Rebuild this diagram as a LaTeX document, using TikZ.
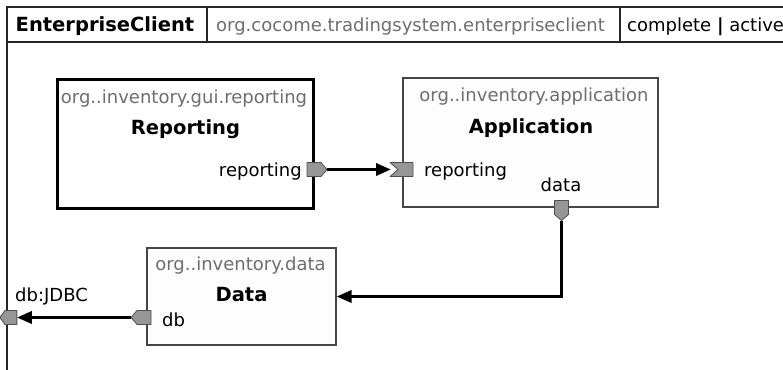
\documentclass[tikz,border=0pt]{standalone}
\usepackage{fontspec}
\setmainfont{DejaVu Sans}
\usepackage{xcolor}
\definecolor{pkggray}{RGB}{110,110,110}
\definecolor{portgray}{RGB}{150,150,150}
\definecolor{portline}{RGB}{80,80,80}
\definecolor{boxline}{RGB}{70,70,70}
\definecolor{boxfill}{RGB}{253,253,253}
\usetikzlibrary{arrows.meta,positioning,calc}

\begin{document}
\begin{tikzpicture}[
  x=1pt,y=-1pt,
  lbl/.style={inner sep=0pt,font=\fontsize{18}{21}\selectfont},
  pkg/.style={lbl,text=pkggray},
  ttl/.style={inner sep=0pt,font=\fontsize{19.5}{22}\selectfont\bfseries},
  compbox/.style={draw=boxline,fill=boxfill,line width=1.1pt,inner sep=0pt},
  guibox/.style={draw=black,fill=white,line width=3pt,inner sep=0pt},
  frame/.style={draw=black!85,line width=1.2pt},
  portshape/.style={draw=portline,fill=portgray,line width=0.8pt,line join=round},
  conn/.style={line width=3.4pt,-{Triangle[length=15pt,width=12pt]}},
  provport/.pic={
    \draw[portshape] (-11,-7) -- (3,-7) -- (9,0) -- (3,7) -- (-11,7) -- cycle;
    \coordinate (-tip) at (9,0);
    \coordinate (-base) at (-11,0);
  },
  reqport/.pic={
    \draw[portshape] (-12,-7) -- (11,-7) -- (11,7) -- (-12,7) -- (-4,0) -- cycle;
    \coordinate (-in) at (-11,0);
  }
]
  \useasboundingbox (0,0) rectangle (783,369);
  \clip (0,0) rectangle (783,369);
  \fill[white] (0,0) rectangle (783,369);

  % outer component and header
  \draw[frame] (795,7) -- (7,7) -- (7,380);
  \draw[frame] (7,42) -- (795,42);
  \draw[frame] (207,7) -- (207,42);
  \draw[frame] (620,7) -- (620,42);
  \node[ttl,anchor=base west] (clientname) at (15.5,31) {EnterpriseClient};
  \node[pkg,anchor=base west] (clientpkg) at (216,31) {org.cocome.tradingsystem.enterpriseclient};
  \node[lbl,anchor=base west] (clientstate) at (627,31) {complete \textbf{|} active};

  % components
  \node[guibox,minimum width=256pt,minimum height=129pt] (reporting) at (185,143.5) {};
  \node[pkg,anchor=base] (reportingpkg) at (184,103) {org..inventory.gui.reporting};
  \node[ttl,anchor=base] (reportingname) at (185.5,134) {Reporting};

  \node[compbox,minimum width=255pt,minimum height=129pt] (application) at (530.5,142.5) {};
  \node[pkg,anchor=base] (applicationpkg) at (534,101) {org..inventory.application};
  \node[ttl,anchor=base] (applicationname) at (531,133) {Application};

  \node[compbox,minimum width=189pt,minimum height=97pt] (data) at (241.5,296.5) {};
  \node[pkg,anchor=base] (datapkg) at (240.5,270) {org..inventory.data};
  \node[ttl,anchor=base] (dataname) at (241.5,301) {Data};

  % ports
  \pic (reportingout) at (318,169.5) {provport};
  \pic (applicationin) at (402,169.5) {reqport};
  \pic[rotate=-90] (applicationdata) at (561.5,211.5) {provport};
  \pic[rotate=180] (datadb) at (140,317.5) {provport};
  \pic[rotate=180,xscale=0.85] (jdbc) at (7.5,317.5) {provport};

  \node[lbl,anchor=base east] (reportingoutlbl) at (302,176) {reporting};
  \node[lbl,anchor=base west] (applicationinlbl) at (424,176) {reporting};
  \node[lbl,anchor=base] (applicationdatalbl) at (561,191) {data};
  \node[lbl,anchor=base west] (datadblbl) at (162,326) {db};
  \node[lbl,anchor=base west] (jdbclbl) at (15,301) {db:JDBC};

  % connections
  \draw[conn] (reportingout-tip) -- (applicationin-in);
  \draw[conn] (applicationdata-tip) |- (data.east);
  \draw[conn] (datadb-tip) -- (jdbc-base);
\end{tikzpicture}
\end{document}
